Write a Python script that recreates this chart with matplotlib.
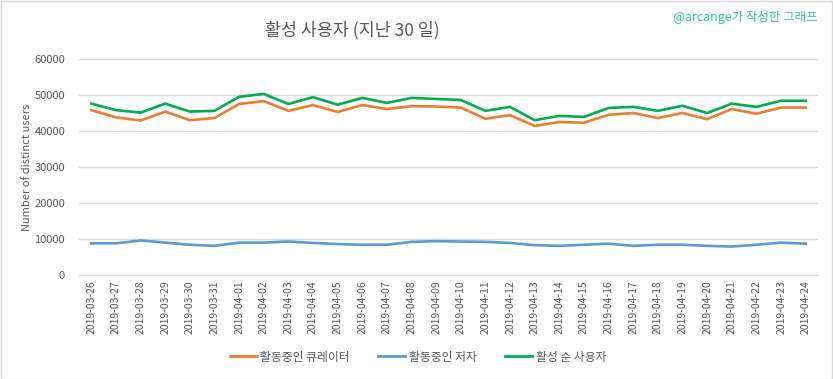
import matplotlib
matplotlib.use("Agg")
import matplotlib.pyplot as plt
from matplotlib.patches import Rectangle
from matplotlib.lines import Line2D

plt.rcParams['font.family'] = ['Noto Sans CJK KR', 'DejaVu Sans']

dates = ["2019-03-26", "2019-03-27", "2019-03-28", "2019-03-29", "2019-03-30", "2019-03-31",
         "2019-04-01", "2019-04-02", "2019-04-03", "2019-04-04", "2019-04-05", "2019-04-06",
         "2019-04-07", "2019-04-08", "2019-04-09", "2019-04-10", "2019-04-11", "2019-04-12",
         "2019-04-13", "2019-04-14", "2019-04-15", "2019-04-16", "2019-04-17", "2019-04-18",
         "2019-04-19", "2019-04-20", "2019-04-21", "2019-04-22", "2019-04-23", "2019-04-24"]

curators = [45800, 43800, 42900, 45400, 43000, 43600, 47500, 48300, 45600, 47200,
            45300, 47200, 46100, 46900, 46800, 46500, 43400, 44400, 41400, 42500,
            42300, 44500, 45000, 43600, 45000, 43300, 46100, 44800, 46500, 46500]

authors = [8800, 8800, 9600, 9000, 8400, 8100, 9000, 9000, 9300, 8900,
           8600, 8400, 8400, 9200, 9400, 9300, 9200, 8900, 8300, 8100,
           8400, 8700, 8100, 8400, 8400, 8100, 7900, 8400, 9000, 8700]

unique_users = [47600, 45800, 45100, 47600, 45400, 45600, 49500, 50300, 47500, 49400,
                47300, 49200, 47800, 49200, 48900, 48600, 45600, 46700, 43000, 44200,
                43900, 46400, 46700, 45600, 47000, 45000, 47600, 46700, 48400, 48400]

series_names = ["활동중인 큐레이터", "활동중인 저자", "활성 순 사용자"]
colors = ["#ED7D31", "#5B9BD5", "#00B050"]

W, H = 833, 379
fig = plt.figure(figsize=(W / 100, H / 100), dpi=100)

left, right, top, bottom = 79, 818, 59, 275
ax = fig.add_axes([left / W, 1 - bottom / H, (right - left) / W, (bottom - top) / H])

x = list(range(len(dates)))
for vals, c in zip([curators, authors, unique_users], colors):
    ax.plot(x, vals, color=c, lw=1.9, solid_joinstyle='round')

ax.set_xlim(-0.5, len(dates) - 0.5)
ax.set_ylim(0, 60000)
ax.set_yticks(range(0, 60001, 10000))
ax.set_yticklabels([str(v) for v in range(0, 60001, 10000)])
ax.set_xticks(x)
ax.set_xticklabels(dates, rotation=90, fontsize=7.5, color="#595959")
ax.tick_params(axis='y', labelsize=8, colors="#595959", length=0, pad=10)
ax.tick_params(axis='x', length=0, pad=4)
ax.grid(axis='y', color="#d9d9d9", lw=1)
ax.set_axisbelow(True)
for s in ["left", "right", "top"]:
    ax.spines[s].set_visible(False)
ax.spines["bottom"].set_color("#d9d9d9")
ax.set_ylabel("Number of distinct users", fontsize=8, color="#595959", labelpad=2)

fig.text(352 / W, 1 - 30 / H, "활성 사용자 (지난 30 일)", ha='center', va='center',
         fontsize=12.5, color="#595959")
fig.text(818 / W, 1 - 17 / H, "@arcange가 작성한 그래프", ha='right', va='center',
         fontsize=9, color="#2EC9A3")

handles = [Line2D([0], [0], color=c, lw=2) for c in colors]
fig.legend(handles, series_names, loc='center', bbox_to_anchor=(418 / W, 1 - 357 / H),
           ncol=3, frameon=False, fontsize=8.5, handlelength=2.3, handletextpad=0.3,
           columnspacing=2.4, labelcolor="#595959")

fig.patches.append(Rectangle((0.5 / W, 0.5 / H), 1 - 1.5 / W, 1 - 1.5 / H,
                             transform=fig.transFigure, fill=False, ec="#d9d9d9", lw=1))

fig.savefig("out.png", dpi=100, facecolor="white")
